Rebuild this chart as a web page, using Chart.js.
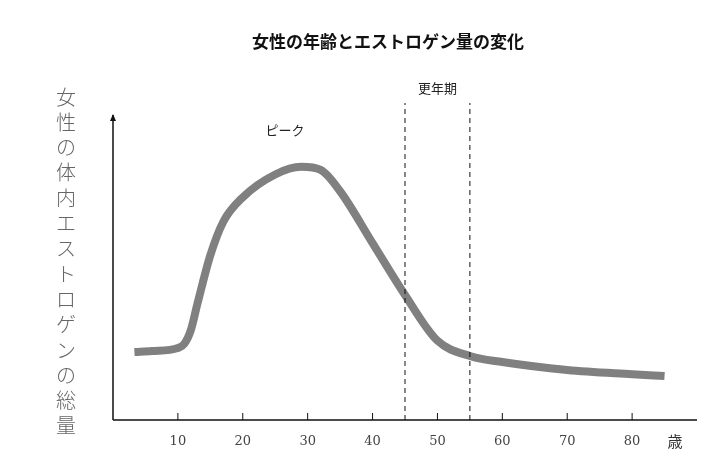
<!DOCTYPE html>
<html><head><meta charset="utf-8">
<script src="https://cdn.jsdelivr.net/npm/chart.js@4"></script>
<style>html,body{margin:0;padding:0;background:#fff}#w{width:703px;height:469px}</style>
</head><body><div id="w"><canvas id="c"></canvas></div>
<script>
const ages = [3.3, 6, 10, 11, 12, 13, 15, 17, 20, 25, 29, 32, 35, 40, 45, 50, 55, 60, 70, 80, 85];
const estrogen = [22.3, 22.6, 23.6, 25, 29.5, 38, 54, 65, 73, 80.5, 83, 82, 75, 58, 41, 26, 21, 19, 16.4, 15, 14.4];
const menopause = [45, 55];
const tickAges = [10, 20, 30, 40, 50, 60, 70, 80];
const title = "女性の年齢とエストロゲン量の変化";
const yLabel = "女性の体内エストロゲンの総量";
const F = '"Noto Sans CJK JP", sans-serif';

const deco = {
  id: 'deco',
  afterDraw(ch) {
    const c = ch.ctx, x = ch.scales.x, y = ch.scales.y;
    const x0 = x.left, yb = y.bottom;
    c.save();
    c.strokeStyle = '#111'; c.lineWidth = 1.5;
    c.beginPath(); c.moveTo(x0, yb); c.lineTo(x.right, yb); c.moveTo(x0, yb); c.lineTo(x0, y.top); c.stroke();
    c.fillStyle = '#111';
    c.beginPath(); c.moveTo(x0 - 3, y.top + 6); c.lineTo(x0 + 3, y.top + 6); c.lineTo(x0, y.top - 1); c.fill();
    c.lineWidth = 1;
    tickAges.forEach(a => { const px = x.getPixelForValue(a); c.beginPath(); c.moveTo(px, yb); c.lineTo(px, yb - 7); c.stroke(); });
    c.setLineDash([5, 4]);
    menopause.forEach(a => { const px = x.getPixelForValue(a); c.beginPath(); c.moveTo(px, yb); c.lineTo(px, 103); c.stroke(); });
    c.setLineDash([]);
    c.fillStyle = '#111'; c.textAlign = 'center'; c.textBaseline = 'middle';
    c.font = 'bold 17px ' + F;
    c.fillText(title, 388, 42);
    c.fillStyle = '#222';
    c.font = '13px ' + F;
    c.fillText('更年期', (x.getPixelForValue(45) + x.getPixelForValue(55)) / 2, 88);
    c.fillText('ピーク', x.getPixelForValue(26.5), 130);
    c.font = '15px ' + F; c.fillStyle = '#333';
    c.fillText('歳', 675, 441);
    c.font = '300 20px ' + F; c.fillStyle = '#666';
    [...yLabel].forEach((ch2, i) => c.fillText(ch2, 66, 97 + i * 25.3));
    c.restore();
  }
};

new Chart(document.getElementById('c'), {
  type: 'line',
  data: { datasets: [{ data: ages.map((a, i) => ({ x: a, y: estrogen[i] })), borderColor: '#808080', borderWidth: 8, tension: 0.35, cubicInterpolationMode: 'monotone', pointRadius: 0, fill: false, borderCapStyle: 'butt' }] },
  options: {
    responsive: true, maintainAspectRatio: false, animation: false,
    layout: { padding: { left: 113, top: 115, right: 0, bottom: 0 } },
    plugins: { legend: { display: false }, tooltip: { enabled: false } },
    scales: {
      x: { type: 'linear', min: 0, max: 90, grid: { display: false }, border: { display: false },
        afterFit(s) { s.height = 49; },
        ticks: { stepSize: 10, autoSkip: false, padding: 6, color: '#444', font: { family: 'DejaVu Serif', size: 13 }, callback: v => tickAges.includes(v) ? String(v) : '' } },
      y: { display: false, min: 0, max: 100 }
    }
  },
  plugins: [deco]
});
</script></body></html>
